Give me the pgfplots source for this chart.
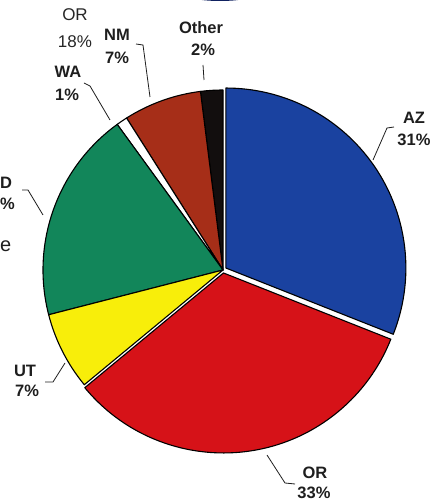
\documentclass[border=0pt]{standalone}
\usepackage{pgfplots}
\usepackage{pgfplotstable}
\pgfplotsset{compat=1.18}
\usepackage{fontspec}
\setmainfont{Liberation Sans}
\definecolor{pblue}{RGB}{26,66,160}
\definecolor{pred}{RGB}{214,18,24}
\definecolor{pyellow}{RGB}{248,238,10}
\definecolor{pgreen}{RGB}{18,134,90}
\definecolor{pbrown}{RGB}{166,46,24}
\definecolor{pblack}{RGB}{18,14,14}
\definecolor{txt}{RGB}{30,30,30}
\definecolor{navy}{RGB}{16,34,96}
% slices counter-clockwise from 12 o'clock
\pgfplotstableread{
label value color explode
Other 2 pblack 0
NM 7 pbrown 0
WA 1 white 0
ID 19 pgreen 0
UT 7 pyellow 0
OR 33 pred 3
AZ 31 pblue 3.5
}\piedata
\newcommand\lab{\fontsize{16.5}{19}\selectfont\bfseries}
\begin{document}
\begin{tikzpicture}
\begin{axis}[at={(0,0)},anchor=south west,scale only axis,width=431pt,height=502pt,
  xmin=0,xmax=431,ymin=0,ymax=502,hide axis,clip mode=individual]
\pgfplotsextra{
  \begin{scope}
  \clip (axis cs:0,0) rectangle (axis cs:431,502);
  \fill[navy] (axis cs:220,512) ellipse [x radius=44pt, y radius=11pt];
  \pgfplotstablegetrowsof{\piedata}
  \pgfmathtruncatemacro\lastrow{\pgfplotsretval-1}
  \xdef\angA{90}
  \foreach \i in {0,...,\lastrow}{
    \pgfplotstablegetelem{\i}{value}\of{\piedata}\let\sv\pgfplotsretval
    \pgfplotstablegetelem{\i}{color}\of{\piedata}\let\scol\pgfplotsretval
    \pgfplotstablegetelem{\i}{explode}\of{\piedata}\let\sexp\pgfplotsretval
    \pgfmathsetmacro\angB{\angA+3.6*\sv}
    \pgfmathsetmacro\midang{(\angA+\angB)/2}
    \filldraw[fill=\scol,draw=black,line width=1.1pt,line join=round]
      ([shift={(\midang:\sexp pt)}]axis cs:223,232) -- ++(\angA:180pt)
      arc[start angle=\angA,end angle=\angB,radius=180pt] -- cycle;
    \xdef\angA{\angB}
  }
  % leader lines
  \begin{scope}[draw=txt,line width=0.8pt]
  \draw (axis cs:373,342) -- (axis cs:387,374) -- (axis cs:394,375);
  \draw (axis cs:267,47) -- (axis cs:285,19) -- (axis cs:295,18);
  \draw (axis cs:65,139) -- (axis cs:53,120) -- (axis cs:45,120);
  \draw (axis cs:43,287) -- (axis cs:28,312) -- (axis cs:22,312);
  \draw (axis cs:110,382) -- (axis cs:90,416) -- (axis cs:84,419);
  \draw (axis cs:150,405) -- (axis cs:143,457) -- (axis cs:136,458);
  \draw (axis cs:204,422) -- (axis cs:203,437);
  \end{scope}
  % labels
  \begin{scope}[every node/.style={inner sep=0pt,text=txt,font=\lab}]
  \node at (axis cs:414,384) {AZ};
  \node at (axis cs:414,362) {31\%};
  \node at (axis cs:315,29) {OR};
  \node at (axis cs:314,9) {33\%};
  \node at (axis cs:25,131) {UT};
  \node at (axis cs:27,111) {7\%};
  \node[anchor=west] at (axis cs:0,319) {D};
  \node[anchor=west] at (axis cs:0,298) {\%};
  \node at (axis cs:68,430) {WA};
  \node at (axis cs:67,407) {1\%};
  \node at (axis cs:117,467) {NM};
  \node at (axis cs:117,444) {7\%};
  \node at (axis cs:201,474) {Other};
  \node at (axis cs:203,452) {2\%};
  \end{scope}
  \node[inner sep=0pt,text=gray!30!black,font=\fontsize{17}{19}\selectfont] at (axis cs:75,487) {OR};
  \node[inner sep=0pt,text=gray!30!black,font=\fontsize{17}{19}\selectfont] at (axis cs:75,460) {18\%};
  \node[inner sep=0pt,anchor=west,text=txt,font=\fontsize{20}{22}\selectfont] at (axis cs:0,256) {e};
  \end{scope}
}
\end{axis}
\pgfresetboundingbox
\path[use as bounding box] (current axis.south west) rectangle (current axis.north east);
\end{tikzpicture}
\end{document}
